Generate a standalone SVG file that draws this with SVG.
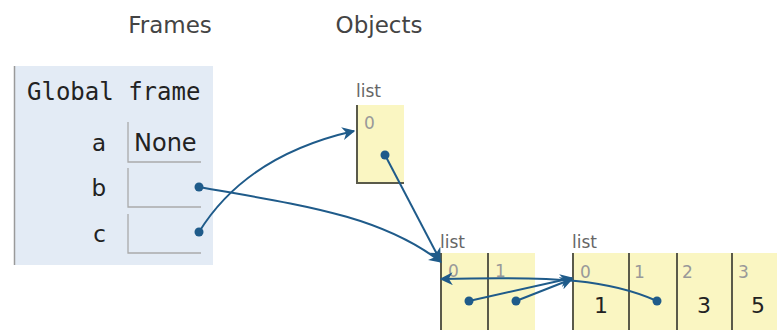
<svg xmlns="http://www.w3.org/2000/svg" width="777" height="330" viewBox="0 0 777 330">
  <style>
    .hdr { font-family: "DejaVu Sans", Verdana, sans-serif; font-size: 23px; fill: #444; }
    .mono { font-family: "DejaVu Sans Mono", "Liberation Mono", monospace; font-size: 24px; fill: #222; }
    .var { font-family: "DejaVu Sans", Verdana, sans-serif; font-size: 23px; fill: #222; text-anchor: end; }
    .val { font-family: "DejaVu Sans", Verdana, sans-serif; font-size: 24px; fill: #222; }
    .tag { font-family: "DejaVu Sans", Verdana, sans-serif; font-size: 17px; fill: #666; }
    .idx { font-family: "DejaVu Sans", Verdana, sans-serif; font-size: 17px; fill: #999; }
    .num { font-family: "DejaVu Sans", Verdana, sans-serif; font-size: 22px; fill: #222; text-anchor: middle; }
    .cell { fill: #faf6c2; }
    .bord { stroke: #5a5a4a; stroke-width: 2; fill: none; }
    .slot { stroke: #aaa; stroke-width: 1.3; fill: none; }
    .ptr { stroke: #1f5b8a; stroke-width: 2; fill: none; marker-end: url(#head); }
    .dot { fill: #1f5b8a; }
  </style>
  <defs>
    <marker id="head" viewBox="0 0 10 10" refX="9" refY="5" markerWidth="6.5" markerHeight="6.5" orient="auto" markerUnits="strokeWidth">
      <path d="M0,0 L10,5 L0,10 L3,5 z" fill="#1f5b8a"/>
    </marker>
  </defs>

  <rect width="777" height="330" fill="#ffffff"/>

  <text class="hdr" x="170" y="33" text-anchor="middle">Frames</text>
  <text class="hdr" x="379" y="33" text-anchor="middle">Objects</text>

  <!-- global frame -->
  <g id="global-frame">
    <rect x="14" y="66" width="199" height="199" fill="#e3ebf5"/>
    <line x1="14.5" y1="66" x2="14.5" y2="265" stroke="#9a9a9a" stroke-width="1.5"/>
    <text class="mono" x="27" y="100">Global frame</text>
    <text class="var" x="106" y="151">a</text>
    <text class="var" x="106" y="196">b</text>
    <text class="var" x="106" y="242">c</text>
    <path class="slot" d="M128,122 V162 H201"/>
    <path class="slot" d="M128,168 V207 H201"/>
    <path class="slot" d="M128,214 V253 H201"/>
    <text class="val" x="134" y="151">None</text>
  </g>

  <!-- list with one element -->
  <g id="list-outer">
    <text class="tag" x="356" y="97">list</text>
    <rect class="cell" x="357" y="105" width="47" height="78"/>
    <path class="bord" d="M357,105 V183 H404"/>
    <text class="idx" x="364" y="129">0</text>
  </g>

  <!-- list with two elements -->
  <g id="list-pair">
    <text class="tag" x="440" y="248">list</text>
    <rect class="cell" x="441" y="253" width="94" height="77"/>
    <line class="bord" x1="441" y1="253" x2="441" y2="330"/>
    <line class="bord" x1="488" y1="253" x2="488" y2="330"/>
    <text class="idx" x="448" y="277">0</text>
    <text class="idx" x="495" y="277">1</text>
  </g>

  <!-- list of numbers -->
  <g id="list-nums">
    <text class="tag" x="572" y="248">list</text>
    <rect class="cell" x="573" y="253" width="204" height="77"/>
    <line class="bord" x1="573" y1="253" x2="573" y2="330"/>
    <line class="bord" x1="629" y1="253" x2="629" y2="330"/>
    <line class="bord" x1="677" y1="253" x2="677" y2="330"/>
    <line class="bord" x1="732" y1="253" x2="732" y2="330"/>
    <text class="idx" x="580" y="278">0</text>
    <text class="idx" x="634" y="278">1</text>
    <text class="idx" x="682" y="278">2</text>
    <text class="idx" x="738" y="278">3</text>
    <text class="num" x="601" y="313">1</text>
    <text class="num" x="704" y="313">3</text>
    <text class="num" x="758" y="313">5</text>
  </g>

  <!-- references -->
  <g id="connectors">
    <path class="ptr" d="M199,232 C225,190 270,150 354,131"/>
    <path class="ptr" d="M199,187 C300,205 380,215 441,262"/>
    <path class="ptr" d="M385,155 L440,260"/>
    <path class="ptr" d="M469,301 L572,278"/>
    <path class="ptr" d="M516,301 L572,279"/>
    <path class="ptr" d="M657,301 C610,280 560,276 441,279"/>
    <circle class="dot" cx="199" cy="187" r="4.5"/>
    <circle class="dot" cx="199" cy="232" r="4.5"/>
    <circle class="dot" cx="385" cy="155" r="4.5"/>
    <circle class="dot" cx="469" cy="301" r="4.5"/>
    <circle class="dot" cx="516" cy="301" r="4.5"/>
    <circle class="dot" cx="657" cy="301" r="4.5"/>
  </g>
</svg>
